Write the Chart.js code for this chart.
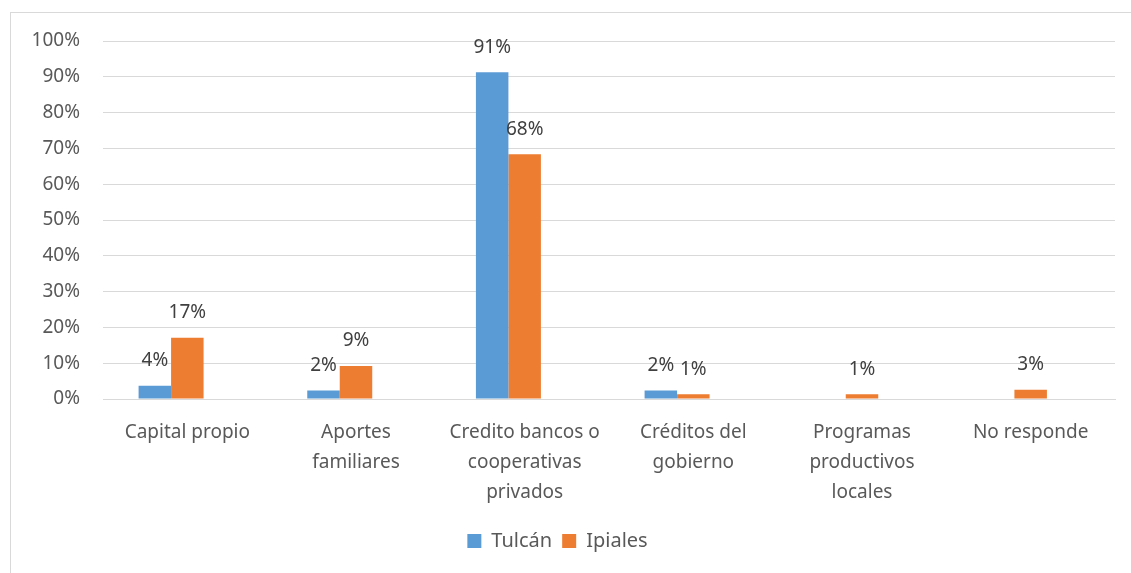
<!DOCTYPE html>
<html lang="es">
  <head>
    <meta charset="UTF-8" />
    <script src="https://cdn.jsdelivr.net/npm/chart.js"></script>
    <title>Fuentes de financiamiento</title>
    <style>
      body { margin: 0; background: #fff; }
      #caja { width: 1131px; height: 573px; }
    </style>
  </head>
  <body>
    <div id="caja"><canvas id="grafico"></canvas></div>

    <script>
      // datos
      const categorias = [
        "Capital propio",
        ["Aportes", "familiares"],
        ["Credito bancos o", "cooperativas", "privados"],
        ["Créditos del", "gobierno"],
        ["Programas", "productivos", "locales"],
        "No responde",
      ];
      const tulcan = [3.7, 2.4, 91.3, 2.4, 0, 0];
      const ipiales = [17.1, 9.2, 68.4, 1.3, 1.3, 2.6];
      const vacia = []; // tercera serie vacia del original (deja el hueco a la derecha)
      const ticksY = [0, 10, 20, 30, 40, 50, 60, 70, 80, 90, 100];

      const fuente = "'Noto Sans', sans-serif";

      // marco gris alrededor del grafico
      const marco = {
        id: "marco",
        beforeDraw(chart) {
          const c = chart.ctx;
          c.save();
          c.strokeStyle = "#d9d9d9";
          c.lineWidth = 1;
          c.strokeRect(10.5, 12.5, 1130, 570);
          c.restore();
        },
      };

      // etiquetas de valor encima de cada barra
      const etiquetas = {
        id: "etiquetas",
        afterDatasetsDraw(chart) {
          const c = chart.ctx;
          c.save();
          c.font = "19px " + fuente;
          c.fillStyle = "#404040";
          c.textAlign = "center";
          c.textBaseline = "middle";
          chart.data.datasets.forEach((ds, i) => {
            chart.getDatasetMeta(i).data.forEach((bar, j) => {
              const v = ds.data[j];
              if (!v) return;
              c.fillText(Math.round(v) + "%", bar.x, bar.y - 25);
            });
          });
          c.restore();
        },
      };

      const ctx = document.getElementById("grafico");
      new Chart(ctx, {
        type: "bar",
        data: {
          labels: categorias,
          datasets: [
            { label: "Tulcán", data: tulcan, backgroundColor: "#5b9bd5" },
            { label: "Ipiales", data: ipiales, backgroundColor: "#ed7d31" },
            { label: "", data: vacia, backgroundColor: "#a5a5a5" },
          ],
        },
        options: {
          responsive: true,
          maintainAspectRatio: false,
          animation: false,
          categoryPercentage: 0.578,
          barPercentage: 1,
          layout: { padding: { left: 0, right: 16, top: 41, bottom: 12 } },
          plugins: {
            tooltip: { enabled: false },
            legend: {
              position: "bottom",
              labels: {
                font: { family: fuente, size: 20 },
                color: "#595959",
                boxWidth: 14,
                boxHeight: 14,
                padding: 10,
                filter: (item) => item.text !== "",
              },
            },
          },
          scales: {
            x: {
              grid: { display: false },
              border: { color: "#d9d9d9" },
              ticks: {
                font: { family: fuente, size: 19, lineHeight: 1.58 },
                color: "#595959",
                maxRotation: 0,
                autoSkip: false,
                padding: 11,
              },
              afterFit(s) { s.height = 122; },
            },
            y: {
              min: 0,
              max: 100,
              afterBuildTicks(s) { s.ticks = ticksY.map((v) => ({ value: v })); },
              grid: { color: "#d9d9d9", drawTicks: false },
              border: { display: false },
              ticks: {
                font: { family: fuente, size: 19 },
                color: "#595959",
                padding: 23,
                callback: (v) => v + "%",
              },
              afterFit(s) { s.width = 103; },
            },
          },
        },
        plugins: [marco, etiquetas],
      });
    </script>
  </body>
</html>
